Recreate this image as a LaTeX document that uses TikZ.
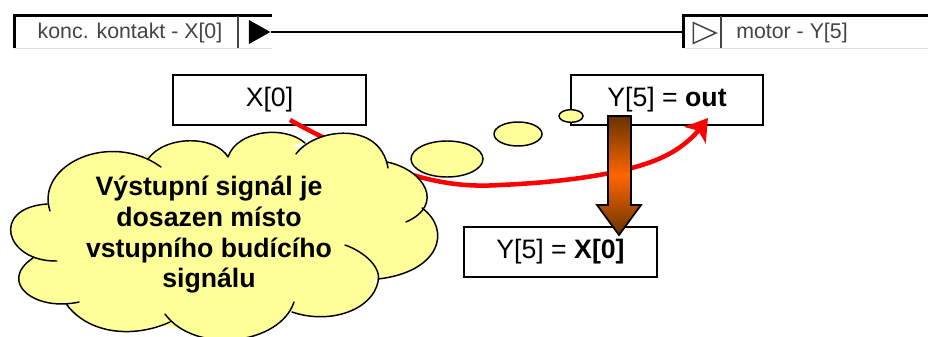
\documentclass[tikz,border=0pt]{standalone}
\usepackage{fontspec}
\setmainfont{Liberation Sans}
\usetikzlibrary{arrows.meta, shapes.geometric}
\definecolor{cloudyellow}{HTML}{FFFF99}
\definecolor{signalred}{HTML}{FF0000}
\definecolor{barorange}{HTML}{FF6600}
\definecolor{barbrown}{HTML}{663300}
\definecolor{wingray}{HTML}{444444}
\tikzset{
    exprbox/.style={draw, line width=1.3pt, fill=white, minimum height=37.5pt, inner sep=0pt, font=\fontsize{20}{24}\selectfont},
    wintext/.style={text=wingray, inner sep=0pt, font=\fontsize{16}{19}\selectfont},
    winbar/.style={fill=white, minimum height=24pt, inner sep=0pt},
    bubble/.style={draw, line width=1.1pt, fill=cloudyellow, ellipse, inner sep=0pt},
}
\newcommand{\cloudlobes}{
    (50,211) .. controls (35,165) and (110,130) .. (161,167)
    (148,159) .. controls (165,135) and (215,135) .. (228,157)
    (228,157) .. controls (237,130) and (285,125) .. (305,143)
    (296,154) .. controls (315,128) and (380,120) .. (388,168)
    (387,162) .. controls (425,170) and (445,205) .. (406,222)
    (422,208) .. controls (452,230) and (440,272) .. (378,279)
    (345,245) .. controls (365,252) and (382,268) .. (378,282)
    (378,282) .. controls (372,310) and (330,325) .. (292,312)
    (294,302) .. controls (280,345) and (195,355) .. (165,314)
    (170,322) .. controls (135,338) and (90,335) .. (67,305)
    (79,302) .. controls (35,312) and (-3,282) .. (33,258)
    (57,261) .. controls (5,262) and (-10,208) .. (47,204)
}
\begin{document}
\begin{tikzpicture}[x=0.75pt, y=-0.75pt, >=Stealth]
    \useasboundingbox (0,0) rectangle (928,336);
    \clip (0,0) rectangle (928,336);

    \node[winbar, minimum width=192.75pt] (kontakt) at (143.5,32) {};
    \node[winbar, minimum width=183pt] (motor) at (806,32) {};
    \node[wintext] (kontaktlabel) at (130,33) {konc. kontakt - X[0]};
    \node[wintext] (motorlabel) at (792,33) {motor - Y[5]};
    \node[isosceles triangle, isosceles triangle stretches, fill=black, minimum width=18pt, minimum height=16pt, inner sep=0pt] (inmark) at (256,32) {};
    \node[isosceles triangle, isosceles triangle stretches, draw=wingray, line width=1.1pt, fill=white, minimum width=15.5pt, minimum height=17pt, inner sep=0pt] (outmark) at (700,33) {};

    \draw[line width=2pt] (kontakt.south west) -- (kontakt.north west) -- (kontakt.north east);
    \draw[line width=2pt] (motor.south west) -- (motor.north west) -- (motor.north east);
    \draw[line width=0.9pt, wingray] (238,16) -- (238,48);
    \draw[line width=0.9pt, wingray] (721,16) -- (721,48);
    \draw[black!12, line width=0.6pt] (kontakt.south west) -- (kontakt.south east);
    \draw[black!12, line width=0.6pt] (motor.south west) -- (motor.south east);
    \draw[line width=1pt] (inmark.apex) -- (motor.west);

    \node[exprbox, minimum width=144.75pt] (inbox) at (269.5,100) {X[0]};
    \node[exprbox, minimum width=144pt] (outbox) at (667,100) {Y[5] = \textbf{out}};
    \node[exprbox, minimum width=144.75pt] (resultbox) at (560.5,252) {Y[5] = \textbf{X[0]}};

    \coordinate (redstart) at (290,120);
    \coordinate (redend) at (708,118);
    \draw[-{Stealth[length=16pt, width=20pt, inset=4pt]}, signalred, line width=3.4pt] (redstart) .. controls (340,148) and (395,170) .. (416,176) .. controls (445,184) and (470,187) .. (500,185) .. controls (570,182) and (635,172) .. (667,155) .. controls (683,147) and (695,135) .. (redend);

    \fill[cloudyellow] (52,200) -- (90,165) -- (148,155) -- (190,148) -- (228,153) -- (265,142) -- (305,148) -- (345,140) -- (387,166) -- (418,190) -- (422,208) -- (428,245) -- (378,277) -- (345,308) -- (292,312) -- (235,340) -- (168,326) -- (115,326) -- (70,303) -- (32,292) -- (33,258) -- (14,232) -- cycle;
    \path[fill=cloudyellow] \cloudlobes;
    \path[draw, line width=1.1pt, line cap=round] \cloudlobes;
    \node[align=center, inner sep=0pt, font=\bfseries\fontsize{20}{23}\selectfont] (cloudtext) at (209,235) {Výstupní signál je\\dosazen místo\\vstupního budícího\\signálu};

    \node[bubble, minimum width=54pt, minimum height=27pt] (bigbubble) at (447,159) {};
    \node[bubble, minimum width=36pt, minimum height=18pt] (midbubble) at (518,134) {};
    \node[bubble, minimum width=18pt, minimum height=9.5pt] (smallbubble) at (571,116) {};

    \path[draw, line width=1.3pt, top color=barbrown, bottom color=barbrown, middle color=barorange]
        (608,116) -- (631,116) -- (631,205) -- (641,205) -- (619,235) -- (597,205) -- (608,205) -- cycle;
\end{tikzpicture}
\end{document}
